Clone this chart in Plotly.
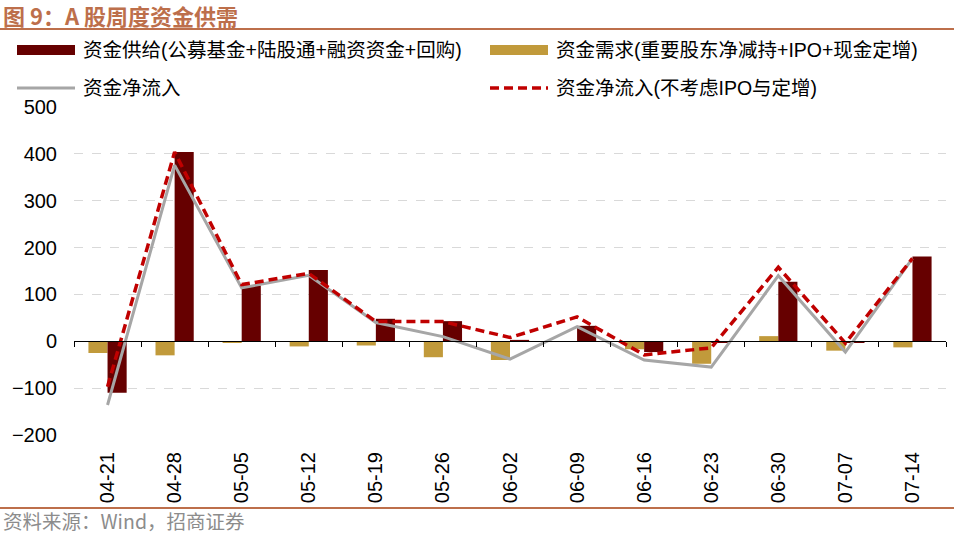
import plotly.graph_objects as go

# weekly dates
weeks = ["04-21", "04-28", "05-05", "05-12", "05-19", "05-26", "06-02",
         "06-09", "06-16", "06-23", "06-30", "07-07", "07-14"]

# 资金供给 / 资金需求 (bars)
supply = [-110, 404, 119, 152, 48, 43, 3, 33, -23, -3, 127, -2, 181]
demand = [-25, -30, -3, -11, -9, -34, -40, -1, -17, -48, 11, -20, -13]

# 资金净流入 / 资金净流入(不考虑IPO与定增) (lines)
net_inflow = [-136, 376, 114, 141, 40, 10, -38, 31, -40, -55, 140, -23, 177]
net_inflow_ex = [-97, 404, 121, 145, 42, 42, 8, 52, -29, -14, 158, -4, 177]

yticks = [-200, -100, 0, 100, 200, 300, 400, 500]

names = ["资金供给(公募基金+陆股通+融资资金+回购)", "资金需求(重要股东净减持+IPO+现金定增)",
         "资金净流入", "资金净流入(不考虑IPO与定增)"]

c_supply = "#660000"
c_demand = "#C19A3B"
c_net = "#A6A6A6"
c_net_ex = "#C00000"
c_title = "#BD6F4B"
font_fam = "Liberation Sans, Arial, Noto Sans CJK SC"

fig = go.Figure()
fig.add_trace(go.Bar(x=weeks, y=demand, name=names[1], marker_color=c_demand,
                     marker_line_width=0))
fig.add_trace(go.Bar(x=weeks, y=supply, name=names[0], marker_color=c_supply,
                     marker_line_width=0))
fig.add_trace(go.Scatter(x=weeks, y=net_inflow, name=names[2], mode="lines",
                         line=dict(color=c_net, width=3), xaxis="x2"))
fig.add_trace(go.Scatter(x=weeks, y=net_inflow_ex, name=names[3], mode="lines",
                         line=dict(color=c_net_ex, width=3.5, dash="9px,5px"), xaxis="x2"))

ymin, ymax = -200, 500
zero_pos = (0 - ymin) / (ymax - ymin)

fig.update_layout(
    width=954, height=535,
    margin=dict(l=74, r=8, t=107, b=100),
    paper_bgcolor="white", plot_bgcolor="white",
    showlegend=False,
    barmode="group", bargap=0.43, bargroupgap=0,
    font=dict(family=font_fam, size=15, color="#000000"),
    xaxis=dict(type="category", categoryarray=weeks, range=[-0.5, 12.5],
               showline=False, showgrid=False, ticks="", tickangle=-90,
               ticklabelstandoff=12, tickfont=dict(size=20, color="#000000")),
    xaxis2=dict(type="category", categoryarray=weeks, range=[-0.5, 12.5],
                overlaying="x", anchor="free", position=zero_pos,
                showline=True, linecolor="#000000", linewidth=1,
                ticks="outside", tickson="boundaries", ticklen=5, tickcolor="#000000",
                showticklabels=False, showgrid=False),
    yaxis=dict(range=[ymin, ymax], tickvals=yticks, showline=False,
               showgrid=True, gridcolor="#D9D9D9", griddash="dash", gridwidth=1,
               zeroline=False, ticklabelstandoff=16,
               tickfont=dict(size=20, color="#000000")),
)

# title, rules and footer
fig.add_annotation(text="<b>图 9：A 股周度资金供需</b>", xref="paper", yref="paper",
                   x=-72 / 872, y=1 + 92 / 328, xanchor="left", yanchor="middle",
                   showarrow=False, borderpad=0,
                   font=dict(size=22, color=c_title, family="Noto Sans CJK SC"))
fig.add_shape(type="line", xref="paper", yref="paper", x0=-74 / 872, x1=1 + 8 / 872,
              y0=1 + 78 / 328, y1=1 + 78 / 328, line=dict(color=c_title, width=2))
fig.add_shape(type="line", xref="paper", yref="paper", x0=-74 / 872, x1=1 + 8 / 872,
              y0=-73 / 328, y1=-73 / 328, line=dict(color=c_title, width=2))
fig.add_annotation(text="资料来源：Wind，招商证券", xref="paper", yref="paper",
                   x=-72 / 872, y=-85 / 328, xanchor="left", yanchor="middle",
                   showarrow=False, borderpad=0,
                   font=dict(size=19.5, color="#8C8C8C", family="Noto Sans CJK SC"))

# custom legend
def px_x(v):
    return (v - 74) / 872

def px_y(v):
    return (435 - v) / 328

legend_items = [
    (17, 50, "bar", c_supply, names[0]),
    (490, 50, "bar", c_demand, names[1]),
    (17, 88, "line", c_net, names[2]),
    (490, 88, "dash", c_net_ex, names[3]),
]
for lx, ly, kind, col, txt in legend_items:
    if kind == "bar":
        fig.add_shape(type="rect", xref="paper", yref="paper",
                      x0=px_x(lx), x1=px_x(lx + 58), y0=px_y(ly - 5), y1=px_y(ly + 5),
                      fillcolor=col, line_width=0)
    else:
        fig.add_shape(type="line", xref="paper", yref="paper",
                      x0=px_x(lx), x1=px_x(lx + 58), y0=px_y(ly), y1=px_y(ly),
                      line=dict(color=col, width=3.5 if kind == "dash" else 3,
                                dash="9px,5px" if kind == "dash" else "solid"))
    fig.add_annotation(text=txt, xref="paper", yref="paper", x=px_x(lx + 64), y=px_y(ly),
                       xanchor="left", yanchor="middle", showarrow=False,
                       font=dict(size=19.5, color="#000000", family=font_fam))

fig.write_html("out.html", config={"displayModeBar": False},
               post_script="document.body.style.margin='0';")
